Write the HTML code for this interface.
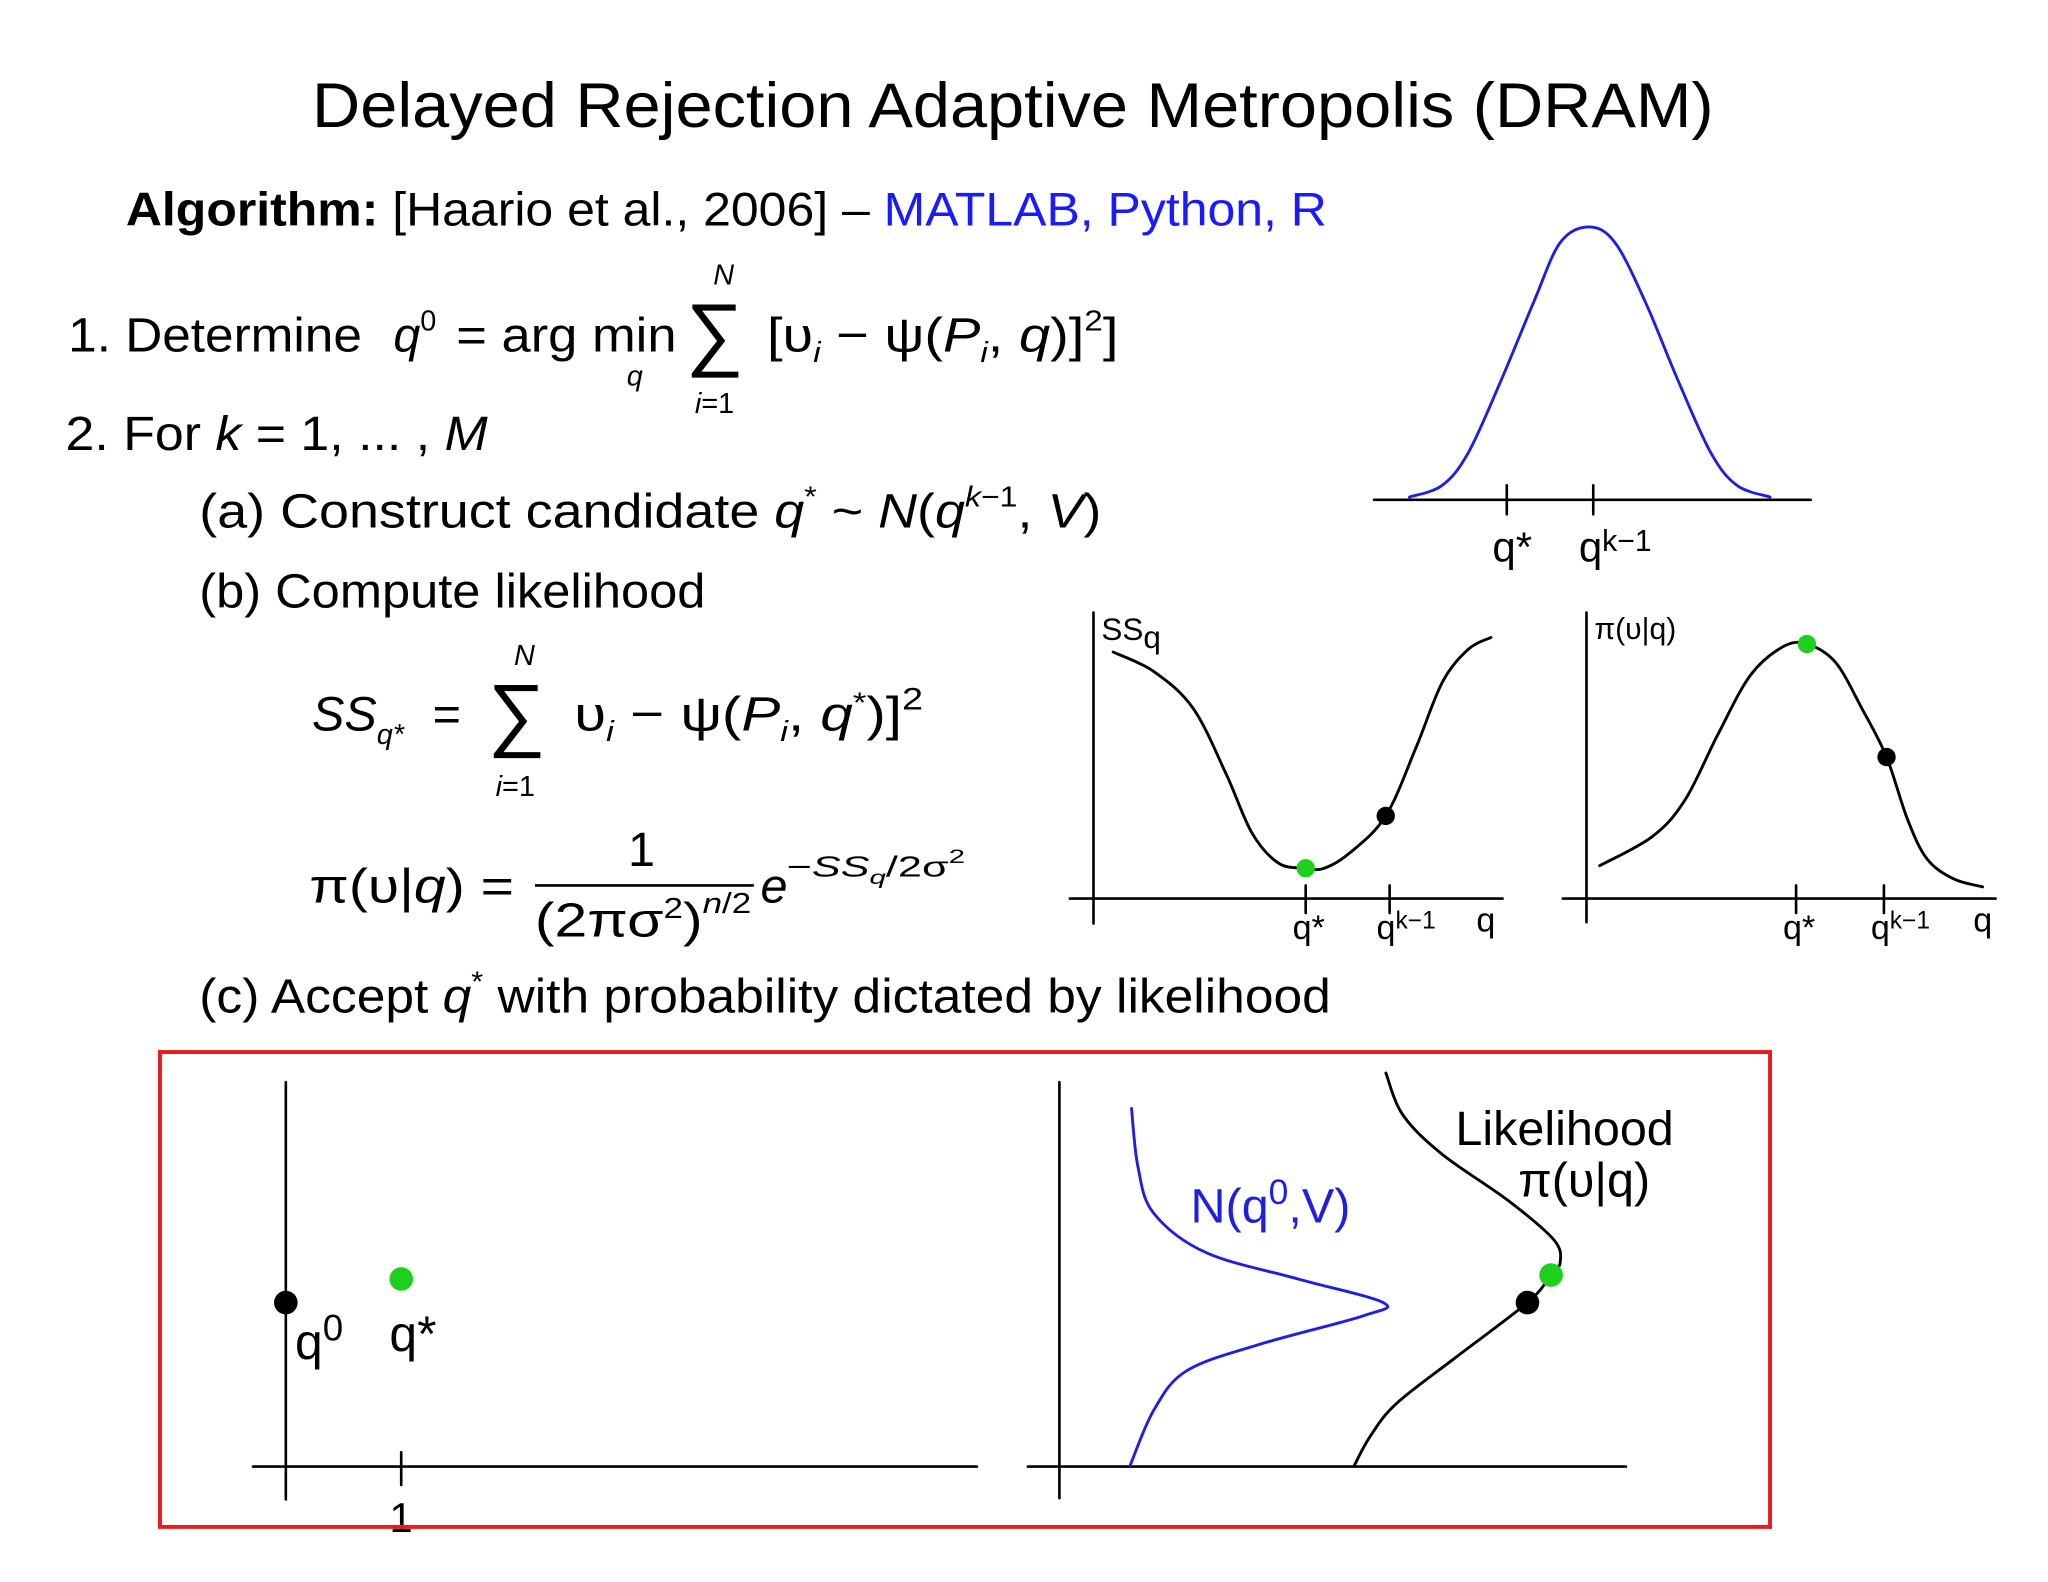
<!DOCTYPE html>
<html><head><meta charset="utf-8"><style>
html,body{margin:0;padding:0;background:#fff;}
svg{display:block;}
text{font-family:"Liberation Sans",sans-serif;}
.it{font-style:italic;}
</style></head><body>
<svg id="root" width="2048" height="1582" viewBox="0 0 1562 1206" preserveAspectRatio="none" xmlns="http://www.w3.org/2000/svg">
<rect x="0" y="0" width="1562" height="1206" fill="#fff"/>
<text x="238" y="97" font-size="48" textLength="1069" lengthAdjust="spacingAndGlyphs">Delayed Rejection Adaptive Metropolis (DRAM)</text>
<text x="96" y="172" font-size="36" textLength="916" lengthAdjust="spacingAndGlyphs"><tspan font-weight="bold">Algorithm:</tspan> [Haario et al., 2006] – <tspan fill="#1a1aff">MATLAB, Python, R</tspan></text>

<g font-size="37">
<text x="52" y="268" textLength="224" lengthAdjust="spacingAndGlyphs">1. Determine</text>
<text x="300" y="268" class="it">q<tspan dy="-16" font-size="22" font-style="normal">0</tspan></text>
<text x="348" y="268" textLength="168" lengthAdjust="spacingAndGlyphs">= arg min</text>
<text x="478" y="294" font-size="22" class="it">q</text>
<text x="523" y="275" font-size="62">∑</text>
<text x="544" y="217" font-size="22" class="it">N</text>
<text x="530" y="315" font-size="22"><tspan class="it">i</tspan>=1</text>
<text x="585" y="268" textLength="268" lengthAdjust="spacingAndGlyphs">[υ<tspan font-size="22" class="it" dy="8">i</tspan><tspan dy="-8"> − ψ(</tspan><tspan class="it">P</tspan><tspan font-size="22" class="it" dy="8">i</tspan><tspan dy="-8">, </tspan><tspan class="it">q</tspan>)]<tspan dy="-16" font-size="22">2</tspan><tspan dy="16">]</tspan></text>
</g>
<text x="50" y="343" font-size="37" textLength="322" lengthAdjust="spacingAndGlyphs">2. For <tspan class="it">k</tspan> = 1, ... , <tspan class="it">M</tspan></text>
<text x="152" y="402" font-size="37" textLength="688" lengthAdjust="spacingAndGlyphs">(a) Construct candidate <tspan class="it">q</tspan><tspan dy="-16" font-size="22">*</tspan><tspan dy="16"> ~ </tspan><tspan class="it">N</tspan>(<tspan class="it">q</tspan><tspan dy="-16" font-size="22" class="it">k</tspan><tspan font-size="22">−1</tspan><tspan dy="16">, </tspan><tspan class="it">V</tspan>)</text>
<text x="152" y="463" font-size="37" textLength="386" lengthAdjust="spacingAndGlyphs">(b) Compute likelihood</text>
<g font-size="37">
<text x="238" y="557" class="it">SS<tspan font-size="22" dy="10">q*</tspan></text>
<text x="330" y="557">=</text>
<text x="372" y="565" font-size="62">∑</text>
<text x="392" y="507" font-size="22" class="it">N</text>
<text x="378" y="607" font-size="22"><tspan class="it">i</tspan>=1</text>
<text x="438" y="557" textLength="266" lengthAdjust="spacingAndGlyphs">υ<tspan font-size="22" class="it" dy="8">i</tspan><tspan dy="-8"> − ψ(</tspan><tspan class="it">P</tspan><tspan font-size="22" class="it" dy="8">i</tspan><tspan dy="-8">, </tspan><tspan class="it">q</tspan><tspan dy="-14" font-size="22">*</tspan><tspan dy="14">)]</tspan><tspan dy="-16" font-size="24">2</tspan></text>
</g>
<g font-size="37">
<text x="236" y="688" textLength="156" lengthAdjust="spacingAndGlyphs">π(υ|<tspan class="it">q</tspan>) =</text>
<text x="479" y="660">1</text>
<line x1="408" y1="675" x2="575" y2="675" stroke="#000" stroke-width="2"/>
<text x="408" y="714" textLength="165" lengthAdjust="spacingAndGlyphs">(2πσ<tspan dy="-14" font-size="22">2</tspan><tspan dy="14">)</tspan><tspan dy="-18" font-size="22" class="it">n</tspan><tspan font-size="22">/2</tspan></text>
<text x="580" y="688" class="it">e</text>
<text x="600" y="668" font-size="22" textLength="136" lengthAdjust="spacingAndGlyphs">−<tspan class="it">SS</tspan><tspan font-size="15" class="it" dy="6">q</tspan><tspan dy="-6">/2σ</tspan><tspan dy="-10" font-size="15">2</tspan></text>
</g>
<text x="152" y="772" font-size="37" textLength="863" lengthAdjust="spacingAndGlyphs">(c) Accept <tspan class="it">q</tspan><tspan dy="-16" font-size="22">*</tspan><tspan dy="16"> with probability dictated by likelihood</tspan></text>

<g id="charts" stroke-linecap="round"></g>
<rect x="122" y="802" width="1228" height="362" fill="none" stroke="#e81c1c" stroke-width="3"/>
</svg>
<script>
// ---- data ----
const gaussU=[8.1,15.6,21.6,29.1,36.6,42.6,49.2,55.2,62.1,69.6,77.1,83.1,90.7];
const gaussV=[1,5.3,17.3,43.8,72.6,94.2,100,94.2,72.6,43.8,17.3,5.3,1];
const gaussTicks=[30.4,50.2];
const gaussTickLabels=["q*","qk−1"];
const ssU=[10,19.4,28.5,36.1,42.1,48.2,54.5,58.8,64.8,73,80,86.1,92.1,97.3];
const ssV=[86.2,79.4,66.5,43.6,22.9,12.4,10.6,10.6,16.1,28.9,52.8,75.7,87.2,91.3];
const ssGreen=[54.5,10.6], ssBlack=[73,28.9];
const ssTicks=[54.5,73.9];
const piU=[8.5,20.6,28.2,35.8,43.3,50.9,56.4,63,69.1,74.8,79.7,84.2,90.3,97];
const piV=[11.5,21.6,34.4,57.3,78,88.1,89,82.6,66.5,49.5,27.5,13.8,6.9,4.1];
const piGreen=[56.4,89], piBlack=[74.8,49.5];
const piTicks=[53.9,74.2];
const propU=[79,84,96,136,206,271,256,176,121,96,78];
const propV=[273,228,193,163,143,125,115,93,73,43,1];
const likeU=[273,286,316,366,401,406,399,381,326,281,261,249];
const likeV=[300,268,238,203,173,156,146,125,83,48,23,1];
const likeGreen=[399,146], likeBlack=[381,125];
const chainQ0=[0,125], chainQstar=[88,143];

const NS="http://www.w3.org/2000/svg";
const G=document.getElementById('charts');
function mk(tag,attrs,parent){const e=document.createElementNS(NS,tag);for(const k in attrs)e.setAttribute(k,attrs[k]);(parent||G).appendChild(e);return e;}
function lin(d0,d1,r0,r1){return v=>r0+(v-d0)/(d1-d0)*(r1-r0);}
function smooth(pts){let d="M"+pts[0][0]+","+pts[0][1];for(let i=0;i<pts.length-1;i++){const p0=pts[i-1]||pts[i],p1=pts[i],p2=pts[i+1],p3=pts[i+2]||p2;const c1=[p1[0]+(p2[0]-p0[0])/6,p1[1]+(p2[1]-p0[1])/6],c2=[p2[0]-(p3[0]-p1[0])/6,p2[1]-(p3[1]-p1[1])/6];d+=" C"+c1+" "+c2+" "+p2;}return d;}
function curve(us,vs,sx,sy,color,name){const p=mk('path',{d:smooth(us.map((u,i)=>[sx(u),sy(vs[i])])),fill:'none',stroke:color,'stroke-width':2.2});

return p;}
function line(x1,y1,x2,y2,name){const l=mk('line',{x1,y1,x2,y2,stroke:'#000','stroke-width':2});

}
function dot(x,y,c,r,name){const d=mk('circle',{cx:x,cy:y,r:r,fill:c});

}
function label(x,y,s,size,name,color){const t=mk('text',{x,y,'font-size':size,fill:color||'#000'});t.textContent=s;

return t;}
function qk(x,y,size,name){const t=mk('text',{x,y,'font-size':size});


t.innerHTML='q<tspan dy="-8" font-size="'+(size*0.72)+'">k−1</tspan>';}

// top gaussian proposal
{const sx=lin(0,100,1048,1381),sy=lin(0,100,381,173);
line(1048,381,1381,381,'proposal-x-axis');
curve(gaussU,gaussV,sx,sy,'#1f1fe0','proposal-curve');
gaussTicks.forEach((t,i)=>line(sx(t),370,sx(t),392,'proposal-tick-'+i));
label(sx(gaussTicks[0])-11,428,'q*',32,'proposal-tick-label-qstar');
qk(sx(gaussTicks[1])-11,428,32,'proposal-tick-label-qk');}

// SS plot
{const sx=lin(0,100,816,1146),sy=lin(0,100,685,467);
line(834,467,834,704,'ss-y-axis');line(816,685,1146,685,'ss-x-axis');
curve(ssU,ssV,sx,sy,'#000','ss-curve');
ssTicks.forEach((t,i)=>line(sx(t),675,sx(t),696,'ss-tick-'+i));
dot(sx(ssBlack[0]),sy(ssBlack[1]),'#000',7,'ss-current-point');
dot(sx(ssGreen[0]),sy(ssGreen[1]),'#1ed01e',7,'ss-candidate-point');
const t=label(840,488,'SS',24,'ss-y-label');t.innerHTML='SS<tspan dy="6">q</tspan>';
label(sx(ssTicks[0])-10,716,'q*',26,'ss-tick-label-qstar');
qk(sx(ssTicks[1])-10,716,26,'ss-tick-label-qk');
label(1126,710,'q',26,'ss-x-label');}

// likelihood plot
{const sx=lin(0,100,1192,1522),sy=lin(0,100,685,467);
line(1210,467,1210,703,'pi-y-axis');line(1192,685,1522,685,'pi-x-axis');
curve(piU,piV,sx,sy,'#000','pi-curve');
piTicks.forEach((t,i)=>line(sx(t),675,sx(t),696,'pi-tick-'+i));
dot(sx(piBlack[0]),sy(piBlack[1]),'#000',7,'pi-current-point');
dot(sx(piGreen[0]),sy(piGreen[1]),'#1ed01e',7,'pi-candidate-point');
label(1216,487,'π(υ|q)',23,'pi-y-label');
label(sx(piTicks[0])-10,716,'q*',26,'pi-tick-label-qstar');
qk(sx(piTicks[1])-10,716,26,'pi-tick-label-qk');
label(1505,710,'q',26,'pi-x-label');}

// bottom-left chain plot
{const sx=lin(0,100,218,318),sy=lin(0,100,1118,1018);
line(218,825,218,1143,'chain-y-axis');line(193,1118,745,1118,'chain-x-axis');
line(306,1107,306,1132,'chain-tick-1');
label(297,1168,'1',32,'chain-tick-label-1');
dot(sx(chainQ0[0]),sy(chainQ0[1]),'#000',9,'chain-q0-point');
dot(sx(chainQstar[0]),sy(chainQstar[1]),'#1ed01e',9,'chain-qstar-point');
const a=label(225,1036,'q',38,'chain-q0-label');a.innerHTML='q<tspan dy="-14" font-size="28">0</tspan>';
label(297,1030,'q*',38,'chain-qstar-label');}

// bottom-right density plot
{const sx=lin(0,100,784,884),sy=lin(0,100,1118,1018);
line(808,825,808,1142,'density-y-axis');line(784,1118,1240,1118,'density-x-axis');
curve(propU,propV,sx,sy,'#1f1fe0','proposal-density-curve');
curve(likeU,likeV,sx,sy,'#000','likelihood-density-curve');
dot(sx(likeBlack[0]),sy(likeBlack[1]),'#000',9,'density-current-point');
dot(sx(likeGreen[0]),sy(likeGreen[1]),'#1ed01e',9,'density-candidate-point');
const n=label(908,932,'N',37,'proposal-density-label','#1f1fe0');n.innerHTML='N(q<tspan dy="-14" font-size="27">0</tspan><tspan dy="14">,V)</tspan>';
label(1110,873,'Likelihood',37,'likelihood-label');
label(1158,912,'π(υ|q)',37,'likelihood-formula-label');}
</script>
</body></html>
